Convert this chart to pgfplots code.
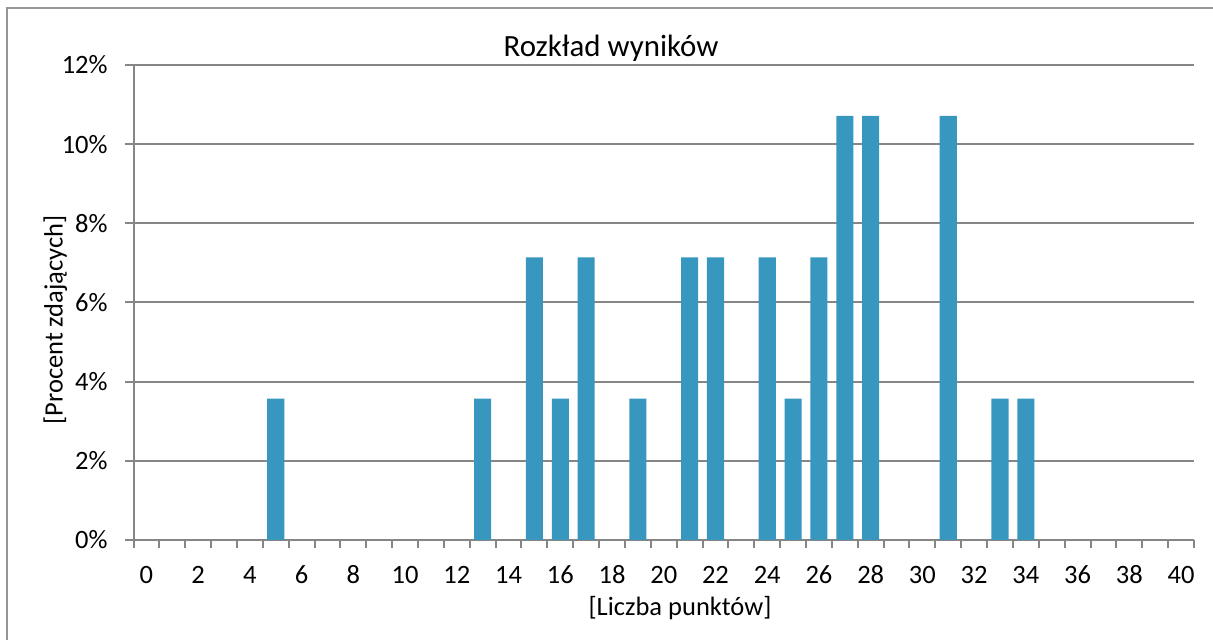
\documentclass[border=0pt]{standalone}
\usepackage{pgfplots}
\pgfplotsset{compat=1.18}
\usepackage{fontspec}
\setmainfont{Carlito}
\definecolor{barc}{RGB}{55,151,191}
\definecolor{axc}{RGB}{134,134,134}
\definecolor{brd}{RGB}{150,150,150}
\begin{document}
\fontsize{13.3}{16}\selectfont
\begin{tikzpicture}
\path[use as bounding box] (0,0) rectangle (606.5bp,320bp);
\draw[brd, line width=1bp] (3.5bp,0) -- (3.5bp,316bp) -- (606.5bp,316bp);
\begin{axis}[
 at={(66.75bp,50bp)}, anchor=south west,
 scale only axis, width=530.25bp, height=237.5bp,
 xmin=-0.5, xmax=40.5, ymin=0, ymax=12,
 axis x line=bottom, axis y line=left,
 axis line style={axc, line width=1bp, -},
 xtick={0,2,...,40},
 minor xtick={-0.5,0.5,...,40.5},
 ytick={0,2,...,12},
 tick align=outside, major tick length=4bp, minor tick length=4bp,
 tick style={axc, line width=1bp},
 every major x tick/.append style={draw=none},
 ymajorgrids, grid style={axc, line width=1bp},
 /pgf/number format/assume math mode=true,
 yticklabel={\pgfmathprintnumber{\tick}\%},
 ticklabel style={inner sep=0pt},
 xticklabel style={anchor=base, yshift=-17.5bp},
 yticklabel style={anchor=east, xshift=-8.75bp},
 ]
\addplot[ybar, bar width=0.66, fill=barc, draw=none] coordinates {
(5,3.571) (13,3.571) (15,7.143) (16,3.571) (17,7.143) (19,3.571)
(21,7.143) (22,7.143) (24,7.143) (25,3.571) (26,7.143) (27,10.714)
(28,10.714) (31,10.714) (33,3.571) (34,3.571)};
\end{axis}
\node[font=\fontsize{15.5}{18}\selectfont, anchor=base] at (305.5bp,291.5bp) {Rozkład wyników};
\node[anchor=base] at (340bp,12.5bp) {[Liczba punktów]};
\node[rotate=90, anchor=base] at (31.25bp,160bp) {[Procent zdających]};
\end{tikzpicture}
\end{document}
